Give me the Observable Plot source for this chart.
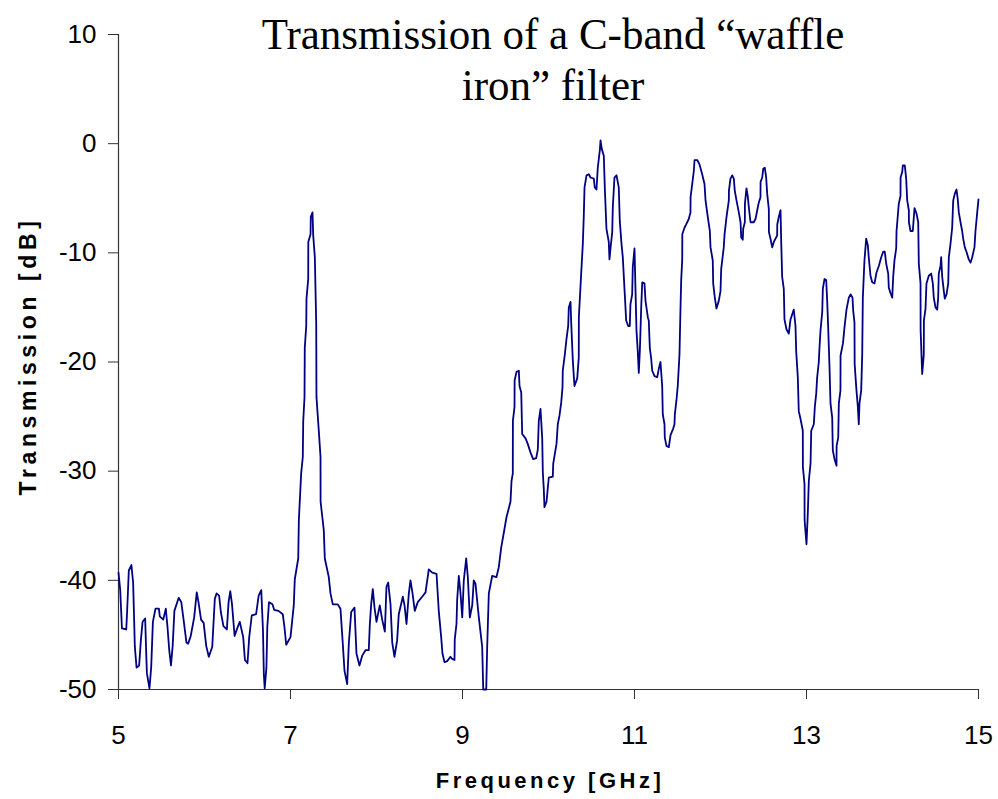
<!DOCTYPE html>
<html>
<head>
<meta charset="utf-8">
<script src="https://cdn.jsdelivr.net/npm/d3@7"></script>
<script src="https://cdn.jsdelivr.net/npm/@observablehq/plot@0.6"></script>
<style>
  html, body { margin: 0; padding: 0; background: #fff; }
  #chart { width: 998px; height: 799px; }
</style>
</head>
<body>
<div id="chart"></div>
<script>
// Frequency (GHz)
const freq = [
5.00,5.02,5.04,5.09,5.10,5.12,5.15,5.17,5.18,5.19,5.21,5.24,5.26,5.28,5.31,5.32,5.33,5.36,5.38,5.40,
5.43,5.47,5.48,5.52,5.55,5.57,5.59,5.61,5.63,5.65,5.70,5.73,5.76,5.79,5.81,5.84,5.88,5.91,5.93,5.96,
5.99,6.02,6.05,6.09,6.12,6.14,6.17,6.19,6.22,6.26,6.28,6.30,6.32,6.35,6.38,6.41,6.45,6.47,6.50,6.52,
6.55,6.60,6.63,6.66,6.68,6.69,6.70,6.72,6.73,6.75,6.79,6.81,6.86,6.91,6.93,6.95,
7.000,7.038,7.050,7.090,7.097,7.124,7.143,7.148,7.163,7.166,7.183,7.186,7.206,7.207,7.233,7.236,7.256,7.264,7.283,7.299,
7.302,7.329,7.349,7.350,7.387,7.399,7.445,7.465,7.492,7.550,7.581,7.608,7.628,7.659,7.678,7.706,7.744,7.767,7.802,7.834,
7.872,7.910,7.922,7.938,7.957,7.977,8.000,8.038,8.066,8.097,8.116,8.136,8.163,8.183,8.209,8.240,8.259,8.306,8.326,8.349,
8.376,8.395,8.419,8.445,8.480,8.531,8.570,8.608,8.648,8.698,8.724,8.752,8.767,8.791,8.822,8.860,8.880,8.907,8.910,8.930,
8.938,8.957,8.977,8.997,9.015,9.043,9.062,9.085,9.113,9.131,9.151,9.190,9.229,9.241,9.276,9.287,9.306,9.345,9.395,9.422,
9.450,9.488,9.512,9.558,9.570,9.585,9.586,9.605,9.606,9.628,9.655,9.663,9.683,9.694,9.733,9.759,9.791,9.822,9.857,9.876,
9.887,9.907,9.927,9.934,9.945,9.953,9.977,10.003,10.050,10.055,10.093,10.108,10.128,10.148,10.163,10.166,10.190,10.209,10.229,10.236,
10.256,10.264,10.283,10.302,10.334,10.352,10.353,10.380,10.399,10.410,10.419,10.442,10.469,10.488,10.527,10.538,10.558,10.573,10.597,10.605,
10.620,10.643,10.655,10.674,10.701,10.709,10.721,10.741,10.748,10.767,10.791,10.817,10.829,10.849,10.864,10.876,10.887,10.903,10.927,10.945,
10.953,10.973,10.980,11.000,11.012,11.023,11.038,11.050,11.062,11.078,11.090,11.116,11.128,11.155,11.166,11.178,11.194,11.206,11.233,11.264,
11.283,11.302,11.322,11.329,11.349,11.352,11.372,11.399,11.419,11.450,11.465,11.469,11.488,11.503,11.523,11.535,11.543,11.555,11.556,11.581,
11.601,11.631,11.651,11.652,11.671,11.690,11.698,11.729,11.756,11.787,11.814,11.826,11.852,11.876,11.884,11.910,11.915,11.934,11.953,11.980,
12.000,12.008,12.038,12.047,12.070,12.097,12.098,12.116,12.136,12.155,12.166,12.186,12.213,12.233,12.241,12.259,12.264,12.283,12.284,12.302,
12.317,12.329,12.349,12.387,12.407,12.427,12.445,12.465,12.466,12.485,12.497,12.515,12.531,12.543,12.562,12.563,12.581,12.601,12.620,12.640,
12.659,12.660,12.678,12.698,12.706,12.717,12.736,12.744,12.767,12.794,12.814,12.852,12.872,12.880,12.899,12.910,12.930,12.957,12.958,12.977,
12.978,13.000,13.015,13.027,13.047,13.055,13.085,13.097,13.113,13.124,13.143,13.151,13.163,13.183,13.190,13.209,13.229,13.241,13.252,13.267,
13.279,13.299,13.306,13.326,13.349,13.350,13.369,13.376,13.395,13.396,13.424,13.442,13.465,13.492,13.512,13.535,13.543,13.558,13.560,13.581,
13.597,13.608,13.616,13.636,13.648,13.655,13.674,13.694,13.713,13.724,13.744,13.764,13.791,13.814,13.841,13.869,13.892,13.910,13.927,13.950,
13.957,13.977,13.997,14.008,14.023,14.043,14.047,14.073,14.093,14.094,14.113,14.120,14.143,14.159,14.171,14.190,14.191,14.209,14.236,14.256,
14.279,14.299,14.306,14.326,14.327,14.345,14.364,14.365,14.384,14.395,14.422,14.450,14.469,14.480,14.500,14.520,14.531,14.538,14.558,14.566,
14.578,14.597,14.608,14.628,14.648,14.655,14.674,14.694,14.706,14.724,14.744,14.759,14.771,14.791,14.810,14.822,14.841,14.860,14.887,14.907,
14.927,14.953,14.965,14.985,15.000
];
// Transmission (dB)
const transmission = [
-39.3,-40.9,-44.4,-44.5,-42.9,-39.1,-38.6,-40.2,-43.1,-46.1,-48.0,-47.8,-45.5,-43.8,-43.5,-46.1,-48.5,-49.9,-48.0,-43.8,
-42.6,-42.6,-43.3,-43.6,-42.6,-44.3,-46.4,-47.8,-46.0,-42.8,-41.6,-42.0,-43.8,-45.7,-45.8,-45.1,-43.4,-41.1,-42.0,-43.6,
-43.9,-46.0,-47.0,-46.1,-41.7,-41.2,-41.4,-42.9,-44.2,-44.5,-42.0,-41.0,-42.2,-45.1,-44.4,-43.8,-45.2,-47.3,-47.6,-45.2,
-43.2,-43.1,-41.4,-40.9,-44.6,-48.6,-49.9,-48.0,-44.3,-42.0,-42.2,-42.7,-42.8,-43.1,-44.3,-45.9,
-45.2,-42.3,-39.9,-38.0,-34.5,-30.2,-28.7,-25.4,-23.2,-18.7,-16.7,-14.2,-12.4,-9.0,-8.3,-6.7,-6.3,-8.4,-10.4,-16.5,
-23.2,-26.3,-28.7,-32.8,-35.4,-38.0,-39.7,-41.2,-42.2,-42.2,-42.6,-45.8,-48.3,-49.5,-45.8,-42.9,-42.5,-46.7,-47.8,-46.9,
-46.4,-46.4,-44.1,-42.2,-40.8,-42.5,-43.8,-42.3,-43.6,-44.7,-40.6,-40.2,-42.2,-45.7,-47.0,-45.5,-43.1,-41.5,-42.3,-44.0,
-41.2,-40.0,-41.2,-42.8,-42.0,-41.5,-41.1,-39.0,-39.3,-39.4,-42.8,-45.2,-46.7,-47.5,-47.4,-47.0,-47.2,-47.3,-45.4,-44.0,
-41.8,-39.6,-41.2,-43.4,-40.0,-38.0,-39.7,-43.4,-42.3,-40.0,-40.3,-43.4,-46.1,-50.0,-50.0,-46.1,-41.2,-39.6,-39.7,-38.8,
-37.0,-35.3,-34.2,-32.8,-30.9,-30.2,-25.4,-24.1,-21.7,-20.9,-20.8,-22.2,-22.8,-26.6,-27.0,-27.5,-28.3,-28.9,-28.8,-28.0,
-25.4,-24.3,-27.0,-30.1,-31.6,-33.3,-32.8,-30.6,-30.5,-29.3,-27.5,-25.7,-24.9,-23.7,-22.3,-20.8,-19.3,-17.9,-16.7,-15.0,
-14.5,-16.4,-19.9,-22.2,-21.5,-19.6,-15.9,-11.9,-9.2,-6.7,-4.0,-2.9,-2.8,-3.1,-3.2,-4.0,-4.2,-2.2,-0.6,0.3,
-0.5,-1.1,-4.1,-7.8,-9.0,-10.6,-9.6,-8.1,-5.8,-3.1,-2.9,-4.0,-7.1,-9.2,-10.4,-12.2,-13.8,-16.2,-16.7,-16.7,
-14.7,-13.8,-11.3,-9.6,-13.5,-17.1,-19.0,-21.0,-19.0,-15.0,-12.7,-12.8,-14.4,-15.9,-16.2,-18.7,-19.7,-20.8,-21.3,-21.4,
-20.6,-20.0,-22.2,-24.8,-25.7,-26.9,-27.7,-27.8,-26.7,-26.1,-25.7,-24.8,-23.5,-22.2,-19.3,-15.0,-12.5,-10.6,-8.3,-7.7,
-7.4,-6.9,-6.3,-4.9,-3.7,-2.5,-1.5,-1.5,-1.9,-2.8,-3.7,-5.2,-6.7,-8.0,-9.5,-10.7,-12.8,-14.1,-15.1,-14.4,
-13.5,-11.5,-9.5,-8.3,-6.7,-5.2,-4.3,-3.2,-2.9,-3.2,-4.3,-5.2,-6.3,-7.2,-8.6,-8.8,-7.8,-7.2,-5.5,-4.1,
-4.8,-5.8,-7.2,-7.2,-6.9,-6.1,-5.4,-4.9,-3.5,-3.1,-2.3,-2.2,-3.1,-4.6,-6.0,-8.1,-8.7,-9.5,-9.0,-8.7,
-8.4,-7.4,-6.7,-6.1,-9.0,-12.2,-13.3,-16.1,-17.0,-17.4,-16.1,-15.2,-16.7,-19.0,-21.4,-24.5,-25.2,-26.3,-29.6,-31.2,
-34.5,-36.7,-33.9,-30.9,-29.3,-26.3,-25.7,-24.1,-22.9,-21.4,-20.0,-18.7,-17.1,-15.4,-13.3,-12.4,-12.5,-14.5,-16.8,-20.3,
-23.8,-25.1,-28.1,-28.9,-29.5,-27.7,-26.9,-23.8,-22.6,-19.4,-18.3,-16.8,-15.2,-14.1,-13.8,-14.1,-15.3,-16.4,-20.2,-22.6,
-24.1,-25.7,-23.8,-22.6,-19.3,-14.1,-10.7,-8.7,-9.3,-10.4,-12.1,-12.7,-12.8,-11.8,-11.2,-10.4,-9.9,-9.9,-11.0,-11.9,
-13.2,-13.7,-14.1,-12.2,-10.7,-9.6,-8.0,-5.5,-4.8,-3.1,-2.6,-2.0,-2.0,-3.2,-5.2,-6.1,-7.2,-8.0,-8.0,-5.9,
-6.4,-7.2,-11.0,-12.8,-17.1,-21.1,-19.3,-16.2,-15.1,-12.8,-12.1,-11.9,-12.8,-14.1,-15.0,-15.2,-14.1,-11.9,-11.2,-10.4,
-12.2,-13.5,-14.2,-13.8,-12.8,-10.4,-9.2,-7.7,-5.2,-4.6,-4.2,-5.1,-6.3,-7.2,-8.0,-8.7,-9.5,-9.9,-10.6,-10.9,
-10.4,-9.5,-8.0,-6.3,-5.1
];
const xTicks = [5, 7, 9, 11, 13, 15];
const yTicks = [-50, -40, -30, -20, -10, 0, 10];
const titleLines = ["Transmission of a C-band \u201cwaffle", "iron\u201d filter"];
const xLabel = "Frequency [GHz]";
const yLabel = "Transmission [dB]";

const data = freq.map((f, i) => ({f, t: transmission[i]}));

const chart = Plot.plot({
  width: 998,
  height: 799,
  marginLeft: 118,
  marginRight: 20,
  marginTop: 34,
  marginBottom: 110,
  style: {fontFamily: "'Liberation Sans', Arial, sans-serif", background: "#fff", color: "#000"},
  x: {domain: [5, 15]},
  y: {domain: [-50, 10]},
  marks: [
    Plot.axisX({ticks: xTicks, tickFormat: d => `${d}`, tickSize: 10, tickPadding: 26, fontSize: 26, label: null, stroke: "#333"}),
    Plot.axisY({ticks: yTicks, tickFormat: d => `${d}`, tickSize: 10, tickPadding: 12, fontSize: 26, label: null, stroke: "#333"}),
    Plot.ruleX([5], {stroke: "#333", strokeWidth: 1.2}),
    Plot.ruleY([-50], {stroke: "#333", strokeWidth: 1.2}),
    Plot.line(data, {x: "f", y: "t", stroke: "#000080", strokeWidth: 1.8})
  ]
});

document.getElementById("chart").appendChild(chart);

const svg = d3.select(chart);
// Title: one text element, two lines
const title = svg.append("text")
  .attr("transform", "translate(553,49) scale(1,1.05)")
  .attr("text-anchor", "middle")
  .style("font-family", "'Liberation Serif', 'Times New Roman', serif")
  .style("font-size", "43px")
  .attr("fill", "#000");
titleLines.forEach((line, i) => {
  title.append("tspan").attr("x", 0).attr("dy", i === 0 ? 0 : 48.6).text(line);
});
// Axis titles
svg.append("text")
  .attr("x", 550).attr("y", 788)
  .attr("text-anchor", "middle")
  .style("font-family", "'Liberation Sans', Arial, sans-serif")
  .style("font-size", "22px").style("font-weight", "bold")
  .style("letter-spacing", "3.5px")
  .attr("fill", "#000")
  .text(xLabel);
svg.append("text")
  .attr("transform", "translate(36,356) rotate(-90)")
  .attr("text-anchor", "middle")
  .style("font-family", "'Liberation Sans', Arial, sans-serif")
  .style("font-size", "23px").style("font-weight", "bold")
  .style("letter-spacing", "4.6px")
  .attr("fill", "#000")
  .text(yLabel);
</script>
</body>
</html>
